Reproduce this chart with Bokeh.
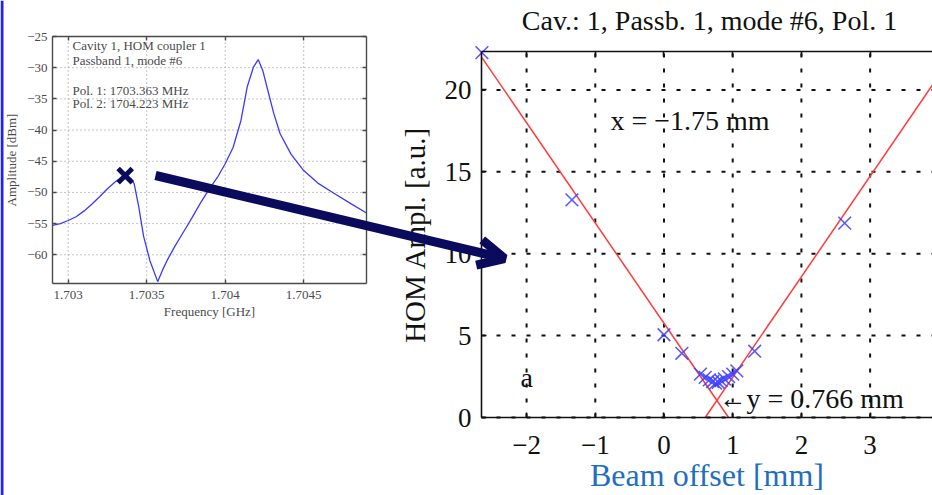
from bokeh.plotting import figure
from bokeh.models import (FixedTicker, LinearAxis, Arrow, OpenHead, Label,
                          BoxAnnotation, Range1d)
from bokeh.embed import file_html
from bokeh.resources import INLINE

SERIF = "Liberation Serif"
NAVY = "#0b0b5e"
GRAY = "#4a4a4a"
BLACK = "#111111"

# ---------------- left panel: measured HOM spectrum ----------------
freq_ghz = [1.70290, 1.70295, 1.70300, 1.70305, 1.70310, 1.70315, 1.70320, 1.70325,
            1.70330, 1.70334, 1.70337, 1.70340, 1.70342, 1.70345, 1.70348, 1.70352,
            1.70357, 1.70360, 1.70363, 1.70368, 1.70374, 1.70379, 1.70384, 1.70390,
            1.70395, 1.70400, 1.70405, 1.70410, 1.70414, 1.70418, 1.70421, 1.70424,
            1.70427, 1.70431, 1.70435, 1.70442, 1.70450, 1.70459, 1.70469, 1.70480,
            1.70490]
ampl_dbm = [-55.3, -55.0, -54.5, -53.9, -53.0, -51.9, -50.7, -49.4,
            -48.3, -47.6, -47.4, -47.8, -48.6, -52.4, -57.0, -60.9,
            -64.3, -62.5, -60.9, -58.6, -56.1, -54.0, -51.8, -49.4,
            -47.6, -45.4, -42.8, -38.5, -33.1, -29.9, -28.7, -30.5,
            -33.5, -37.4, -40.6, -43.9, -46.5, -48.5, -50.1, -51.8,
            -53.3]
pol1_freq = [1.703363]
pol1_ampl = [-47.3]
left_xlim = (1.7029, 1.7049)
left_ylim = (-64.6, -25.0)
left_xticks = [1.703, 1.7035, 1.704, 1.7045]
left_xlabels = ["1.703", "1.7035", "1.704", "1.7045"]
left_yticks = [-60, -55, -50, -45, -40, -35, -30, -25]
left_ylabels = ["\u221260", "\u221255", "\u221250", "\u221245", "\u221240",
                "\u221235", "\u221230", "\u221225"]
left_notes = ["Cavity 1, HOM coupler 1", "Passband 1, mode #6",
              "Pol. 1: 1703.363 MHz", "Pol. 2: 1704.223 MHz"]

# ---------------- right panel: HOM amplitude vs beam offset ----------------
offset_mm = [-2.65, -1.34, 0.00, 0.26, 0.53, 0.60, 0.66, 0.71, 0.75,
             0.79, 0.83, 0.88, 0.94, 1.00, 1.06, 1.32, 2.63, 4.00]
hom_ampl = [22.28, 13.29, 5.05, 3.92, 2.65, 2.45, 2.30, 2.20, 2.10,
            2.15, 2.25, 2.35, 2.50, 2.65, 2.85, 4.05, 11.87, 21.6]
fit_left_x = [-2.65, 0.94]
fit_left_y = [21.98, 0.0]
fit_right_x = [0.60, 4.20]
fit_right_y = [0.0, 22.1]
right_xlim = (-2.656, 3.908)
right_ylim = (0.0, 22.35)
right_xticks = [-2, -1, 0, 1, 2, 3]
right_xlabels = ["\u22122", "\u22121", "0", "1", "2", "3"]
right_yticks = [0, 5, 10, 15, 20]
right_ylabels = ["0", "5", "10", "15", "20"]

# ---------------- page layout (pixels) ----------------
W, H = 932, 495
LBOX = dict(left=52, right=366, top=36, bottom=283)
RBOX = dict(left=481, right=932, top=51, bottom=417)


def xrange_for(lim, box):
    s = (lim[1] - lim[0]) / (box["right"] - box["left"])
    return Range1d(lim[0] - box["left"] * s, lim[0] + (W - box["left"]) * s)


def yrange_for(lim, box):
    s = (lim[1] - lim[0]) / (box["bottom"] - box["top"])
    return Range1d(lim[0] - (H - box["bottom"]) * s, lim[1] + box["top"] * s)


RXR, RYR = xrange_for(right_xlim, RBOX), yrange_for(right_ylim, RBOX)
LXR, LYR = xrange_for(left_xlim, LBOX), yrange_for(left_ylim, LBOX)


def px2x(rng, px):
    return rng.start + px * (rng.end - rng.start) / W


def py2y(rng, py):
    return rng.end - py * (rng.end - rng.start) / H


p = figure(width=W, height=H, x_range=RXR, y_range=RYR,
           x_axis_location=None, y_axis_location=None, min_border=0,
           output_backend="svg", toolbar_location=None)
p.extra_x_ranges = {"lx": LXR}
p.extra_y_ranges = {"ly": LYR}
p.outline_line_color = None
p.grid.visible = False
p.background_fill_color = "white"
p.border_fill_color = "white"


def add_axis(loc, ticks, labels, fixed, bounds, color, lw, font_size, standoff,
             xr="default", yr="default", show_labels=True, tick_in=5):
    ax = LinearAxis(fixed_location=fixed, bounds=bounds, x_range_name=xr,
                    y_range_name=yr, ticker=FixedTicker(ticks=ticks))
    if show_labels:
        ax.major_label_overrides = dict(zip(ticks, labels))
    else:
        ax.major_label_overrides = {t: "" for t in ticks}
    ax.axis_line_color = color
    ax.axis_line_width = lw
    ax.major_tick_line_color = color
    ax.major_tick_line_width = lw
    ax.major_tick_in = tick_in
    ax.major_tick_out = 0
    ax.minor_tick_line_color = None
    ax.major_label_text_font = SERIF
    ax.major_label_text_font_size = font_size
    ax.major_label_text_color = color
    ax.major_label_standoff = standoff
    ax.axis_label_text_font = SERIF
    ax.axis_label_text_font_style = "normal"
    p.add_layout(ax, loc)
    return ax


# ---------- left panel ----------
p.segment(x0=left_xticks, y0=[left_ylim[0]] * len(left_xticks),
          x1=left_xticks, y1=[left_ylim[1]] * len(left_xticks),
          x_range_name="lx", y_range_name="ly",
          line_color="#8a8a8a", line_dash="1 3", line_width=1)
p.segment(x0=[left_xlim[0]] * len(left_yticks), y0=left_yticks,
          x1=[left_xlim[1]] * len(left_yticks), y1=left_yticks,
          x_range_name="lx", y_range_name="ly",
          line_color="#8a8a8a", line_dash="1 3", line_width=1)

axb = add_axis("below", left_xticks, left_xlabels, left_ylim[0], left_xlim, GRAY, 1.4,
               "13px", 7, xr="lx", yr="ly", tick_in=4)
axb.axis_label = "Frequency [GHz]"
axb.axis_label_text_font_size = "13px"
axb.axis_label_text_color = GRAY
axb.axis_label_standoff = 2
axl = add_axis("left", left_yticks, left_ylabels, left_xlim[0], left_ylim, GRAY, 1.4,
               "13px", 5, xr="lx", yr="ly", tick_in=4)
axl.axis_label = "Amplitude [dBm]"
axl.axis_label_text_font_size = "13px"
axl.axis_label_text_color = GRAY
axl.axis_label_standoff = 5
add_axis("above", left_xticks, left_xlabels, left_ylim[1], left_xlim, GRAY, 1.4,
         "13px", 0, xr="lx", yr="ly", show_labels=False, tick_in=4)
add_axis("right", left_yticks, left_ylabels, left_xlim[1], left_ylim, GRAY, 1.4,
         "13px", 0, xr="lx", yr="ly", show_labels=False, tick_in=4)

p.line(freq_ghz, ampl_dbm, x_range_name="lx", y_range_name="ly",
       line_color="#3a3aff", line_width=1.3)

note_py = [45, 59.5, 89.5, 103]
for txt, py in zip(left_notes, note_py):
    p.add_layout(Label(x=px2x(LXR, 72), y=py2y(LYR, py), x_range_name="lx",
                       y_range_name="ly", text=txt, text_font=SERIF,
                       text_font_size="13px", text_color=GRAY,
                       text_baseline="middle"))

p.scatter(pol1_freq, pol1_ampl, x_range_name="lx", y_range_name="ly",
          marker="x", size=20, line_width=5, line_color=NAVY)

# ---------- right panel ----------
p.segment(x0=right_xticks, y0=[right_ylim[0]] * len(right_xticks),
          x1=right_xticks, y1=[right_ylim[1]] * len(right_xticks),
          line_color=BLACK, line_dash="4 11", line_width=2)
p.segment(x0=[right_xlim[0]] * len(right_yticks), y0=right_yticks,
          x1=[right_xlim[1]] * len(right_yticks), y1=right_yticks,
          line_color=BLACK, line_dash="4 11", line_width=2)

rb = add_axis("below", right_xticks, right_xlabels, right_ylim[0], right_xlim, BLACK,
              1.6, "27px", 18)
rb.axis_label = "Beam offset [mm]"
rb.axis_label_text_color = "#1f6fbf"
rb.axis_label_text_font_size = "32px"
rb.axis_label_standoff = 0
rl = add_axis("left", right_yticks, right_ylabels, right_xlim[0], right_ylim, BLACK,
              1.6, "27px", 10)
rl.axis_label = "HOM Ampl. [a.u.]"
rl.axis_label_text_color = BLACK
rl.axis_label_text_font_size = "29px"
rl.axis_label_standoff = 11
add_axis("above", right_xticks, right_xlabels, right_ylim[1], right_xlim, BLACK,
         1.6, "27px", 0, show_labels=False)

p.line(fit_left_x, fit_left_y, line_color="#ff3b3b", line_width=1.5)
p.line(fit_right_x, fit_right_y, line_color="#ff3b3b", line_width=1.5)
p.scatter(offset_mm, hom_ampl, marker="x", size=18, line_width=1.6,
          line_color="#3c3cff", line_alpha=0.85)

p.add_layout(Label(x=px2x(RXR, 709), y=py2y(RYR, 20),
                   text="Cav.: 1, Passb. 1, mode #6, Pol. 1", text_font=SERIF,
                   text_font_size="28px", text_color=BLACK, text_align="center",
                   text_baseline="middle"))
p.add_layout(Label(x=px2x(RXR, 610), y=py2y(RYR, 135), text="x = \u22121.75 mm",
                   text_font=SERIF, text_font_size="28px", text_color=BLACK))
p.add_layout(Label(x=px2x(RXR, 718), y=py2y(RYR, 413), text="\u2190y = 0.766 mm",
                   text_font=SERIF, text_font_size="28px", text_color=BLACK))
p.add_layout(Label(x=px2x(RXR, 520), y=py2y(RYR, 392), text="a",
                   text_font=SERIF, text_font_size="28px", text_color=BLACK))

# ---------- slide decorations ----------
p.add_layout(Arrow(end=OpenHead(size=26, line_width=9, line_color=NAVY),
                   x_start=px2x(RXR, 155), y_start=py2y(RYR, 175),
                   x_end=px2x(RXR, 504), y_end=py2y(RYR, 258),
                   line_width=9, line_color=NAVY))
p.add_layout(BoxAnnotation(left=px2x(RXR, 0), right=px2x(RXR, 3),
                           fill_color="#2222ee", fill_alpha=1, line_color=None))

open("out.html", "w").write(file_html(p, INLINE))
